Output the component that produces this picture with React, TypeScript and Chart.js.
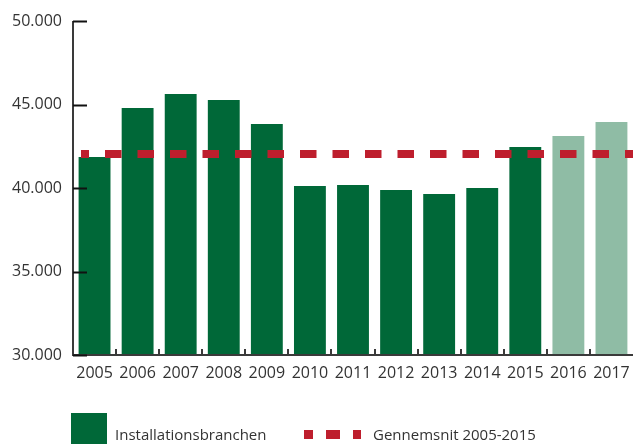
import React, { useEffect, useRef } from "react";
import { Chart, registerables } from "chart.js";

Chart.register(...registerables);

const categories = ["2005", "2006", "2007", "2008", "2009", "2010", "2011", "2012", "2013", "2014", "2015", "2016", "2017"];
const employees = [41850, 44790, 45630, 45270, 43830, 40120, 40180, 39880, 39640, 40000, 42450, 43110, 43950];
const projectedYears = ["2016", "2017"];
const averageValue = 42040;
const yMin = 30000;
const yMax = 50000;
const yStep = 5000;

const DARK_GREEN = "#006838";
const LIGHT_GREEN = "#8fbca5";
const RED = "#be1e2d";
const AXIS = "#3a3a3a";
const TEXT = "#333333";
const FONT = "'Open Sans', sans-serif";

const fmt = (v: number) => {
  const s = Math.round(v).toString();
  return s.replace(/\B(?=(\d{3})+(?!\d))/g, ".");
};

const decorPlugin = {
  id: "decor",
  afterDatasetsDraw(chart: any) {
    const { ctx, chartArea, scales } = chart;
    const x = scales.x;
    const y = scales.y;
    ctx.save();
    // average dashed line
    const ay = y.getPixelForValue(averageValue);
    ctx.strokeStyle = RED;
    ctx.lineWidth = 8;
    ctx.setLineDash([16.5, 16]);
    ctx.lineDashOffset = 8.5;
    ctx.beginPath();
    ctx.moveTo(chartArea.left + 8, ay);
    ctx.lineTo(chartArea.right, ay);
    ctx.stroke();
    ctx.setLineDash([]);

    // axes
    ctx.strokeStyle = AXIS;
    ctx.lineWidth = 2;
    const left = chartArea.left;
    const bottom = chartArea.bottom;
    ctx.beginPath();
    ctx.moveTo(left, chartArea.top);
    ctx.lineTo(left, bottom + 1);
    ctx.moveTo(left - 1, bottom);
    ctx.lineTo(chartArea.right, bottom);
    ctx.stroke();

    // y ticks (inward)
    ctx.strokeStyle = "#111";
    y.ticks.forEach((_t: any, i: number) => {
      const py = Math.round(y.getPixelForTick(i)) + 0.5;
      ctx.beginPath();
      ctx.moveTo(left, py);
      ctx.lineTo(left + 14, py);
      ctx.stroke();
    });

    // x ticks (category boundaries, inward)
    ctx.strokeStyle = AXIS;
    for (let i = 1; i < categories.length; i++) {
      const px = Math.round((x.getPixelForValue(i - 1) + x.getPixelForValue(i)) / 2);
      ctx.beginPath();
      ctx.moveTo(px, bottom);
      ctx.lineTo(px, bottom - 6);
      ctx.stroke();
    }
    ctx.restore();
  },
};

export default function App() {
  const ref = useRef<HTMLCanvasElement | null>(null);

  useEffect(() => {
    if (!ref.current) return;
    const chart = new Chart(ref.current, {
      type: "bar",
      data: {
        labels: categories,
        datasets: [
          {
            label: "Installationsbranchen",
            data: employees,
            backgroundColor: categories.map((c) => (projectedYears.includes(c) ? LIGHT_GREEN : DARK_GREEN)),
            barPercentage: 0.74,
            categoryPercentage: 1,
          },
        ],
      },
      options: {
        responsive: false,
        animation: false,
        devicePixelRatio: 1,
        layout: { padding: { left: 0, right: 0, top: 21, bottom: 49 } },
        plugins: { legend: { display: false }, tooltip: { enabled: false } },
        scales: {
          x: {
            grid: { display: false, drawTicks: false },
            border: { display: false },
            ticks: {
              autoSkip: false,
              maxRotation: 0,
              padding: 9,
              color: TEXT,
              font: { family: FONT, size: 16 },
            },
            afterFit: (s: any) => {
              s.height = 40;
              s.paddingLeft = 0;
              s.paddingRight = 0;
            },
          },
          y: {
            min: yMin,
            max: yMax,
            grid: { display: false, drawTicks: false },
            border: { display: false },
            ticks: {
              stepSize: yStep,
              padding: 11,
              color: TEXT,
              font: { family: FONT, size: 16 },
              callback: (v: any) => fmt(Number(v)),
            },
            afterFit: (s: any) => {
              s.width = 73;
              s.paddingTop = 0;
              s.paddingBottom = 0;
            },
          },
        },
      },
      plugins: [decorPlugin],
    });
    return () => chart.destroy();
  }, []);

  return (
    <div style={{ position: "absolute", left: 0, top: 0, width: 633, height: 444, overflow: "hidden", background: "#fff" }}>
      <canvas ref={ref} width={633} height={444} style={{ width: 633, height: 444, display: "block" }} />
      <div
        style={{
          position: "absolute",
          left: 71,
          top: 413,
          width: 36,
          height: 40,
          background: DARK_GREEN,
        }}
      />
      <div
        style={{
          position: "absolute",
          left: 115,
          top: 424,
          fontFamily: FONT,
          fontSize: 15,
          lineHeight: "20px",
          color: TEXT,
          whiteSpace: "nowrap",
        }}
      >
        Installationsbranchen
      </div>
      <div style={{ position: "absolute", left: 304, top: 430, width: 9, height: 9, background: RED }} />
      <div style={{ position: "absolute", left: 326, top: 430, width: 14, height: 9, background: RED }} />
      <div style={{ position: "absolute", left: 353, top: 430, width: 8, height: 9, background: RED }} />
      <div
        style={{
          position: "absolute",
          left: 373,
          top: 424,
          fontFamily: FONT,
          fontSize: 15,
          lineHeight: "20px",
          color: TEXT,
          whiteSpace: "nowrap",
        }}
      >
        Gennemsnit 2005-2015
      </div>
    </div>
  );
}
